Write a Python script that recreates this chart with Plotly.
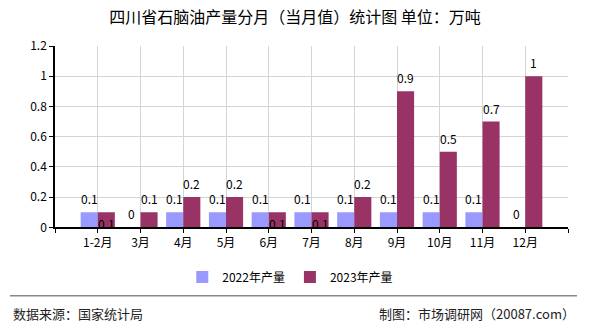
import plotly.graph_objects as go

# Monthly naphtha output, Sichuan (10k tonnes)
months = ["1-2月", "3月", "4月", "5月", "6月", "7月", "8月", "9月", "10月", "11月", "12月"]
output_2022 = [0.1, 0, 0.1, 0.1, 0.1, 0.1, 0.1, 0.1, 0.1, 0.1, 0]
output_2023 = [0.1, 0.1, 0.2, 0.2, 0.1, 0.1, 0.2, 0.9, 0.5, 0.7, 1]
series_names = ["2022年产量", "2023年产量"]
y_ticks = [0, 0.2, 0.4, 0.6, 0.8, 1, 1.2]

COLOR_A = "#9999FF"
COLOR_B = "#993366"
FONT = "Noto Sans CJK SC"

# plot area in pixels (used to place paper-referenced extras)
PLOT_W, PLOT_H = 513, 183

idx = list(range(len(months)))

fig = go.Figure()
fig.add_trace(go.Bar(x=idx, y=output_2022, name=series_names[0],
                     marker=dict(color=COLOR_A, line=dict(width=0))))
fig.add_trace(go.Bar(x=idx, y=output_2023, name=series_names[1],
                     marker=dict(color=COLOR_B, line=dict(width=0))))

# value labels above each bar; a 2023 label moves inside its bar when it
# would collide with an equal 2022 label next to it
annotations = []
for i in idx:
    a, b = output_2022[i], output_2023[i]
    annotations.append(dict(x=i - 0.2, y=a, xref="x", yref="y", text=f"{a:g}",
                            showarrow=False, yanchor="bottom", yshift=3,
                            font=dict(family=FONT, size=12, color="#000")))
    inside = (a == b and b > 0)
    annotations.append(dict(x=i + 0.2, y=b, xref="x", yref="y", text=f"{b:g}",
                            showarrow=False,
                            yanchor="top" if inside else "bottom",
                            yshift=-1 if inside else 3,
                            font=dict(family=FONT, size=12, color="#000")))

# footer texts
footer_y = -87 / PLOT_H
annotations += [
    dict(x=-44 / PLOT_W, y=footer_y, xref="paper", yref="paper",
         text="数据来源：国家统计局", showarrow=False, xanchor="left", yanchor="middle",
         font=dict(family=FONT, size=13, color="#222")),
    dict(x=1 + 9 / PLOT_W, y=footer_y, xref="paper", yref="paper",
         text="制图：市场调研网（20087.com）", showarrow=False, xanchor="right", yanchor="middle",
         font=dict(family=FONT, size=13, color="#222")),
]

fig.update_layout(
    width=590, height=330,
    margin=dict(l=55, r=22, t=46, b=101),
    paper_bgcolor="white", plot_bgcolor="white",
    barmode="group", bargap=0.2, bargroupgap=0,
    title=dict(text="四川省石脑油产量分月（当月值）统计图 单位：万吨",
               x=0.5, xref="container", xanchor="center",
               y=1 - 17 / 330, yref="container", yanchor="middle",
               font=dict(family=FONT, size=16, color="#000")),
    font=dict(family=FONT, size=12, color="#000"),
    showlegend=True,
    legend=dict(orientation="h", xref="container", yref="container",
                x=0.492, xanchor="center", y=1 - 277 / 330, yanchor="middle",
                font=dict(family=FONT, size=12, color="#000"),
                itemwidth=30, traceorder="normal"),
    annotations=annotations,
    shapes=[dict(type="line", xref="paper", yref="paper",
                 x0=-45 / PLOT_W, x1=1 + 9 / PLOT_W, y0=-69 / PLOT_H, y1=-69 / PLOT_H,
                 line=dict(color="#888888", width=1.5))],
)

fig.update_xaxes(
    range=[-1, len(months)],
    tickmode="array",
    tickvals=list(range(-1, len(months) + 1)),
    ticktext=[""] + months + [""],
    showgrid=True, gridcolor="#d4d4d4", gridwidth=1,
    showline=True, linecolor="#000", linewidth=1.5,
    ticks="outside", ticklen=4, tickcolor="#000",
    tickfont=dict(family=FONT, size=12, color="#000"),
    zeroline=False,
)
fig.update_yaxes(
    range=[0, 1.2],
    tickmode="array", tickvals=y_ticks,
    ticktext=[f"{v:g}" for v in y_ticks],
    showgrid=True, gridcolor="#d4d4d4", gridwidth=1,
    showline=True, linecolor="#000", linewidth=1.5,
    ticks="outside", ticklen=4, tickcolor="#000",
    tickfont=dict(family=FONT, size=12, color="#000"),
    zeroline=False,
)

fig.write_html("out.html")
